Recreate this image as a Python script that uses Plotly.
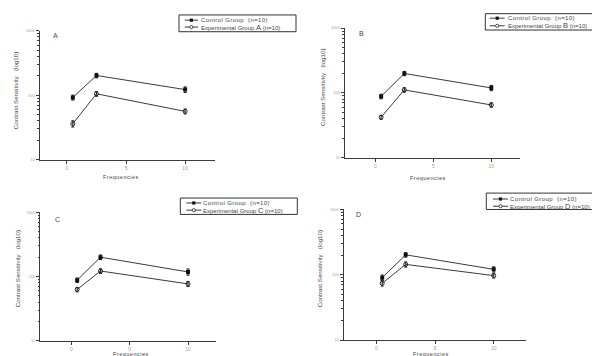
import plotly.graph_objects as go

W, H = 600, 356

freq = [0.5, 2.5, 10]
panel_labels = ["A", "B", "C", "D"]

control_a = [92, 202, 122]
control_b = [88, 199, 119]
control_c = [88, 200, 118]
control_d = [90, 202, 121]
control_err_a = [8, 16, 12]
control_err_b = [7, 15, 11]
control_err_c = [7, 16, 13]
control_err_d = [9, 16, 11]

exper_a = [36, 105, 56]
exper_b = [42, 111, 65]
exper_c = [63, 122, 77]
exper_d = [74, 144, 97]
exper_err_a = [4, 9, 5]
exper_err_b = [3, 9, 5]
exper_err_c = [5, 10, 7]
exper_err_d = [7, 13, 8]

y_ticks = [10, 100, 1000]
y_ticktext = ["10", "100", "1000"]
y_minor = [20, 30, 40, 50, 60, 70, 80, 90, 200, 300, 400, 500, 600, 700, 800, 900]
x_ticks = [0, 5, 10]

controls = [control_a, control_b, control_c, control_d]
control_errs = [control_err_a, control_err_b, control_err_c, control_err_d]
expers = [exper_a, exper_b, exper_c, exper_d]
exper_errs = [exper_err_a, exper_err_b, exper_err_c, exper_err_d]

# layout geometry in pixels: (axis left, axis right, axis top, axis bottom)
boxes = [
    (31.7, 206.7, 20.0, 150.7),
    (336.7, 511.7, 17.3, 148.7),
    (32.3, 208.0, 204.0, 334.7),
    (335.7, 518.0, 201.3, 333.7),
]
xranges = [[-2.3, 12.5], [-2.64, 12.45], [-2.66, 12.4], [-2.78, 12.75]]
# legend geometry: box x0,x1,y0,y1, row1 y, row2 y, line x0,x1, text x
legs = [
    (171.0, 288.0, 4.0, 21.0, 9.3, 16.3, 176.7, 190.0, 192.0),
    (477.3, 595.0, 2.7, 19.3, 7.3, 15.0, 481.7, 496.7, 498.5),
    (172.3, 289.3, 189.7, 206.3, 194.7, 202.0, 178.3, 193.3, 194.3),
    (478.3, 592.7, 184.7, 201.3, 190.7, 198.0, 485.0, 500.0, 500.5),
]
letter_pos = [(47, 25), (353, 23), (49, 211), (350, 206)]
xtitle_pos = [(113, 168), (420, 169), (122.5, 348), (423, 348)]
ytitle_pos = [(8.3, 81), (315, 78), (9, 262), (311, 262)]

def px(x):
    return x / W

def py(y):
    return 1 - y / H

LINE = "#3a3a3a"
TICKC = "#b0a070"
TXT = "#444444"
FONT = "Liberation Sans, Arial, sans-serif"

fig = go.Figure()
layout = dict(
    width=W, height=H, margin=dict(l=0, r=0, t=0, b=0),
    paper_bgcolor="white", plot_bgcolor="white", showlegend=False,
    font=dict(family=FONT, size=6, color=TXT),
)
shapes = []
annotations = []

for i, lab in enumerate(panel_labels):
    n = "" if i == 0 else str(i + 1)
    xa, ya = "x" + n, "y" + n
    x0, x1, y0, y1 = boxes[i]
    fig.add_trace(go.Scatter(
        x=freq, y=controls[i], xaxis=xa, yaxis=ya, mode="lines+markers",
        line=dict(color=LINE, width=1),
        marker=dict(symbol="square", size=4, color="#111"),
        error_y=dict(type="data", array=control_errs[i], color="#111", thickness=1, width=1.5),
        name="Control Group (n=10)"))
    fig.add_trace(go.Scatter(
        x=freq, y=expers[i], xaxis=xa, yaxis=ya, mode="lines+markers",
        line=dict(color=LINE, width=1),
        marker=dict(symbol="circle-open", size=4, color="#222", line=dict(width=1)),
        error_y=dict(type="data", array=exper_errs[i], color="#222", thickness=1, width=1.5),
        name="Experimental Group %s (n=10)" % lab))
    layout["xaxis" + n] = dict(
        domain=[px(x0), px(x1)], range=xranges[i], anchor=ya,
        showgrid=False, zeroline=False, showline=True, linecolor=LINE, linewidth=1,
        ticks="outside", ticklen=3, tickcolor=LINE, tickvals=x_ticks,
        tickfont=dict(size=5, color=TICKC, family=FONT),
    )
    layout["yaxis" + n] = dict(
        domain=[py(y1), py(y0)], type="log", range=[1, 3], anchor=xa,
        showgrid=False, zeroline=False, showline=True, linecolor=LINE, linewidth=1,
        ticks="outside", ticklen=3, tickcolor=LINE, tickvals=y_ticks, ticktext=y_ticktext,
        tickfont=dict(size=4, color=TICKC, family=FONT),
        minor=dict(ticks="outside", ticklen=1.5, tickcolor=LINE, tickvals=y_minor),
    )
    # panel letter
    lx, ly = letter_pos[i]
    annotations.append(dict(x=px(lx), y=py(ly), xref="paper", yref="paper", text=lab,
                            showarrow=False, font=dict(size=7, color=TXT),
                            xanchor="center", yanchor="middle"))
    tx, ty = xtitle_pos[i]
    annotations.append(dict(x=px(tx), y=py(ty), xref="paper", yref="paper",
                            text="<span style='letter-spacing:0.5px'>Frequencies</span>",
                            showarrow=False, font=dict(size=5.5, color=TXT), borderpad=0,
                            xanchor="center", yanchor="middle"))
    yx, yy = ytitle_pos[i]
    annotations.append(dict(x=px(yx), y=py(yy), xref="paper", yref="paper",
                            text="Contrast Sensitivity   (log10)", textangle=-90,
                            showarrow=False, font=dict(size=6.2, color=TXT),
                            xanchor="center", yanchor="middle"))
    # manual legend
    bx0, bx1, by0, by1, r1, r2, lx0, lx1, tx0 = legs[i]
    shapes.append(dict(type="rect", xref="paper", yref="paper", x0=px(bx0), x1=px(bx1),
                       y0=py(by1), y1=py(by0), line=dict(color="#333", width=1)))
    mx = (lx0 + lx1) / 2
    for ry in (r1, r2):
        shapes.append(dict(type="line", xref="paper", yref="paper", x0=px(lx0), x1=px(lx1),
                           y0=py(ry), y1=py(ry), line=dict(color=LINE, width=1)))
    shapes.append(dict(type="rect", xref="paper", yref="paper", x0=px(mx - 1.6), x1=px(mx + 1.6),
                       y0=py(r1 + 1.6), y1=py(r1 - 1.6), fillcolor="#111", line=dict(width=0)))
    shapes.append(dict(type="circle", xref="paper", yref="paper", x0=px(mx - 1.6), x1=px(mx + 1.6),
                       y0=py(r2 + 1.6), y1=py(r2 - 1.6), fillcolor="white",
                       line=dict(color="#222", width=0.8)))
    annotations.append(dict(x=px(tx0), y=py(r1), xref="paper", yref="paper",
                            text="<span style='letter-spacing:0.4px'>Control Group  (n=10)</span>",
                            showarrow=False, borderpad=0,
                            font=dict(size=6, color=TXT), xanchor="left", yanchor="middle"))
    annotations.append(dict(x=px(tx0), y=py(r2), xref="paper", yref="paper",
                            text="Experimental Group "
                                 "<span style='font-size:7.5px'>%s</span> (n=10)" % lab,
                            showarrow=False, borderpad=0,
                            font=dict(size=6, color=TXT), xanchor="left", yanchor="middle"))

layout["shapes"] = shapes
layout["annotations"] = annotations
fig.update_layout(**layout)
fig.write_html("out.html")
